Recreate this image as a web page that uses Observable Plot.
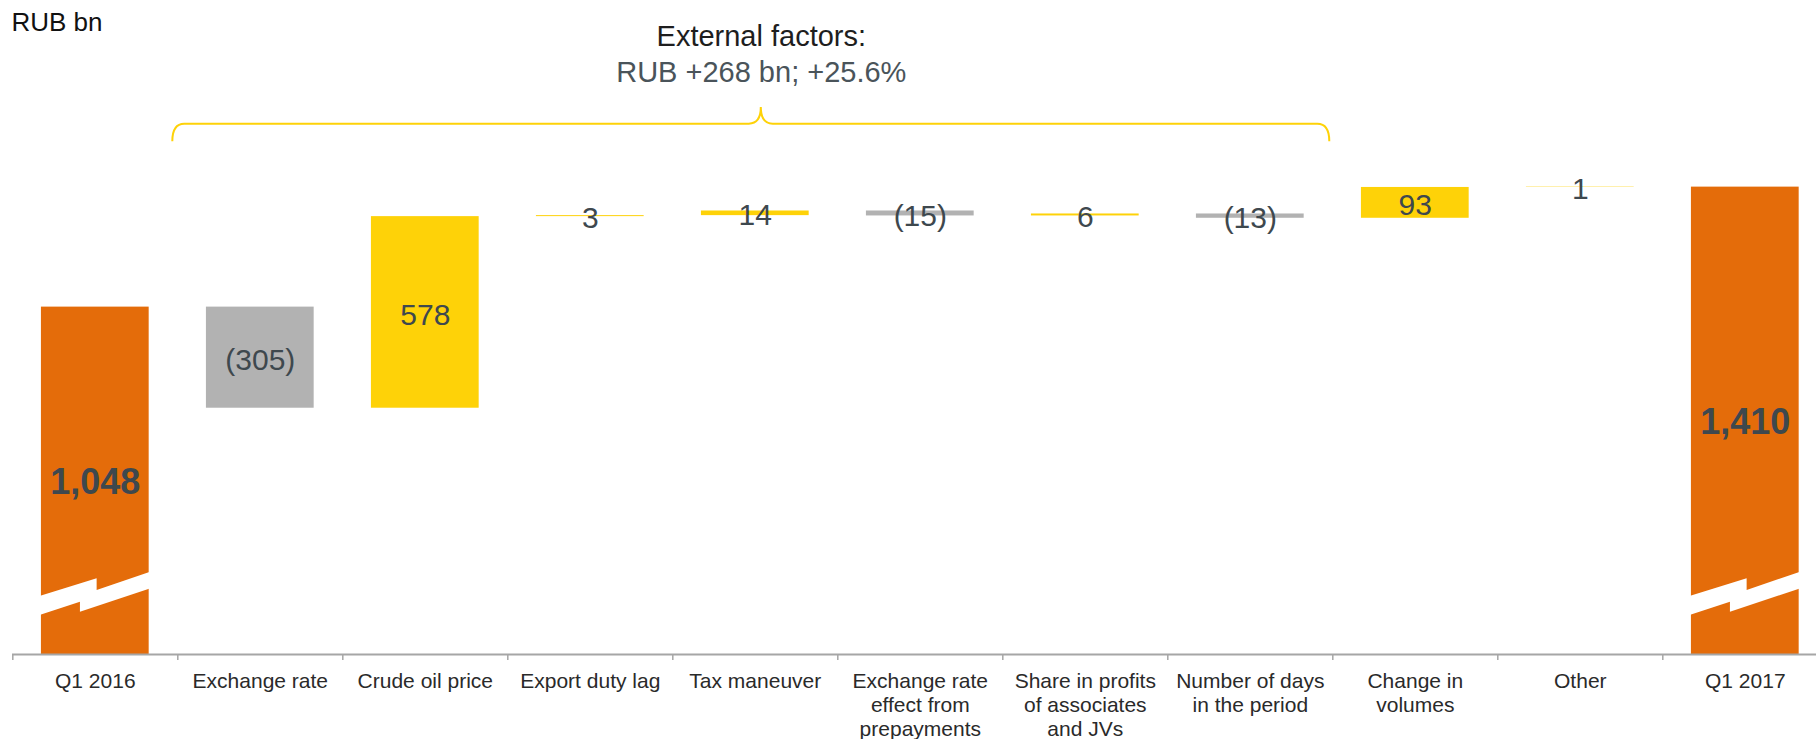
<!DOCTYPE html>
<html>
<head>
<meta charset="utf-8">
<script src="https://cdn.jsdelivr.net/npm/d3@7"></script>
<script src="https://cdn.jsdelivr.net/npm/@observablehq/plot@0.6"></script>
<style>
  html, body { margin: 0; padding: 0; background: #ffffff; }
  #chart svg { display: block; }
</style>
</head>
<body>
<div id="chart"></div>
<script>
// ---------- data ----------
const categories = [
  "Q1 2016",
  "Exchange rate",
  "Crude oil price",
  "Export duty lag",
  "Tax maneuver",
  "Exchange rate\neffect from\nprepayments",
  "Share in profits\nof associates\nand JVs",
  "Number of days\nin the period",
  "Change in\nvolumes",
  "Other",
  "Q1 2017"
];
const kinds = ["total", "delta", "delta", "delta", "delta", "delta", "delta", "delta", "delta", "delta", "total"];
const values = [1048, -305, 578, 3, 14, -15, 6, -13, 93, 1, 1410];

const unitLabel = "RUB bn";
const braceTitle = "External factors:";
const braceSubtitle = "RUB +268 bn; +25.6%";
const braceFrom = "Exchange rate";
const braceTo = "Number of days\nin the period";
const braceCenter = "Tax maneuver";
const brokenBars = ["Q1 2016", "Q1 2017"];

// ---------- layout / style constants ----------
const W = 1816, H = 739;
const MARGIN_BOTTOM = 85;
const Y_MAX = 1973;
const X_RANGE = [12.3, 1827.3];
const PAD_INNER = 0.347;
const STEP = (X_RANGE[1] - X_RANGE[0]) / categories.length;
const FONT = "'Liberation Sans', Arial, Helvetica, sans-serif";
const C_TOTAL = "#e46c0a", C_UP = "#fed208", C_DOWN = "#b2b2b2";
const C_LABEL = "#3e484e", C_AXIS = "#a6a6a6", C_TICKTEXT = "#2a2a2a";
// break symbol: [fraction of bandwidth from band centre, pixel offset from y(BREAK_LEVEL)]
const BREAK_LEVEL = 163;
const BREAK_SHAPE = [[-0.633, 0], [0.017, -21.7], [0.017, -10], [0.636, -32.7], [0.636, -16], [-0.138, 11.7], [-0.138, 1.7], [-0.633, 19.3]];
// brace levels (in value units of the y scale)
const BRACE_END = 1547, BRACE_LINE = 1600, BRACE_PEAK = 1650;

// ---------- waterfall rows ----------
let cum = 0;
const rows = categories.map((cat, i) => {
  const v = values[i];
  let start, end;
  if (kinds[i] === "total") { start = 0; end = v; }
  else { start = cum; end = cum + v; }
  cum = end;
  const label = kinds[i] === "total" ? d3.format(",")(v) : (v < 0 ? `(${-v})` : `${v}`);
  const color = kinds[i] === "total" ? C_TOTAL : (v < 0 ? C_DOWN : C_UP);
  return {cat, kind: kinds[i], value: v, start, end, mid: (start + end) / 2, label, color};
});

// ---------- custom decoration marks (use the plot's scales) ----------
function breakMark(index, scales) {
  const x = scales.x, y = scales.y;
  const bw = x.bandwidth();
  const g = d3.create("svg:g");
  for (const c of brokenBars) {
    const cx = x(c) + bw / 2;
    const y0 = y(BREAK_LEVEL);
    const pts = BREAK_SHAPE.map(([fx, dy]) => [cx + fx * bw, y0 + dy]);
    g.append("path").attr("d", d3.line()(pts) + "Z").attr("fill", "#ffffff");
  }
  return g.node();
}

function braceMark(index, scales) {
  const x = scales.x, y = scales.y;
  const bw = x.bandwidth();
  const gap = (STEP - bw) / 2;
  const L = x(braceFrom) - gap - 5;
  const R = x(braceTo) + bw + gap - 3;
  const P = x(braceCenter) + bw / 2 + 6;
  const yE = y(BRACE_END), yL = y(BRACE_LINE), yP = y(BRACE_PEAK);
  const r = 12;
  const d = `M${L},${yE} Q${L},${yL} ${L + r},${yL} L${P - r},${yL} Q${P},${yL} ${P},${yP} Q${P},${yL} ${P + r},${yL} L${R - r},${yL} Q${R},${yL} ${R},${yE}`;
  const g = d3.create("svg:g");
  g.append("path").attr("d", d).attr("fill", "none").attr("stroke", C_UP).attr("stroke-width", 2);
  return g.node();
}

const chart = Plot.plot({
  width: W,
  height: H,
  marginTop: 0,
  marginBottom: MARGIN_BOTTOM,
  marginLeft: 12,
  marginRight: 0,
  style: {fontFamily: FONT, background: "#ffffff", overflow: "hidden"},
  x: {type: "band", domain: categories, range: X_RANGE, paddingInner: PAD_INNER, paddingOuter: PAD_INNER / 2, round: false, axis: null},
  y: {domain: [0, Y_MAX], axis: null},
  marks: [
    Plot.barY(rows, {x: "cat", y1: "start", y2: "end", fill: "color"}),
    breakMark,
    Plot.ruleY([0], {stroke: C_AXIS, strokeWidth: 2}),
    Plot.ruleX(categories, {x: d => d, y1: 0, y2: 0, insetBottom: -6, dx: -STEP / 2, stroke: C_AXIS, strokeWidth: 1.5}),
    Plot.axisX({tickSize: 0, tickPadding: 17, fontSize: 21, lineHeight: 1.13, color: C_TICKTEXT, fill: C_TICKTEXT, label: null}),
    Plot.text(rows.filter(d => d.kind === "delta"), {x: "cat", y: "mid", text: "label", fontSize: 30, fill: C_LABEL, lineAnchor: "middle", dy: 2.5}),
    Plot.text(rows.filter(d => d.kind === "total"), {x: "cat", y: "mid", text: "label", fontSize: 36, fontWeight: "bold", fill: C_LABEL, lineAnchor: "middle", dy: 2}),
    braceMark,
    Plot.text([braceTitle], {x: () => braceCenter, frameAnchor: "top", lineAnchor: "top", dx: 6, dy: 25, fontSize: 29, fill: "#1e1e1e"}),
    Plot.text([braceSubtitle], {x: () => braceCenter, frameAnchor: "top", lineAnchor: "top", dx: 6, dy: 61, fontSize: 29, fill: "#4a545a"}),
    Plot.text([unitLabel], {frameAnchor: "top-left", textAnchor: "start", lineAnchor: "top", dx: -1, dy: 12, fontSize: 26, fill: "#111111"})
  ]
});
document.getElementById("chart").appendChild(chart);
</script>
</body>
</html>
